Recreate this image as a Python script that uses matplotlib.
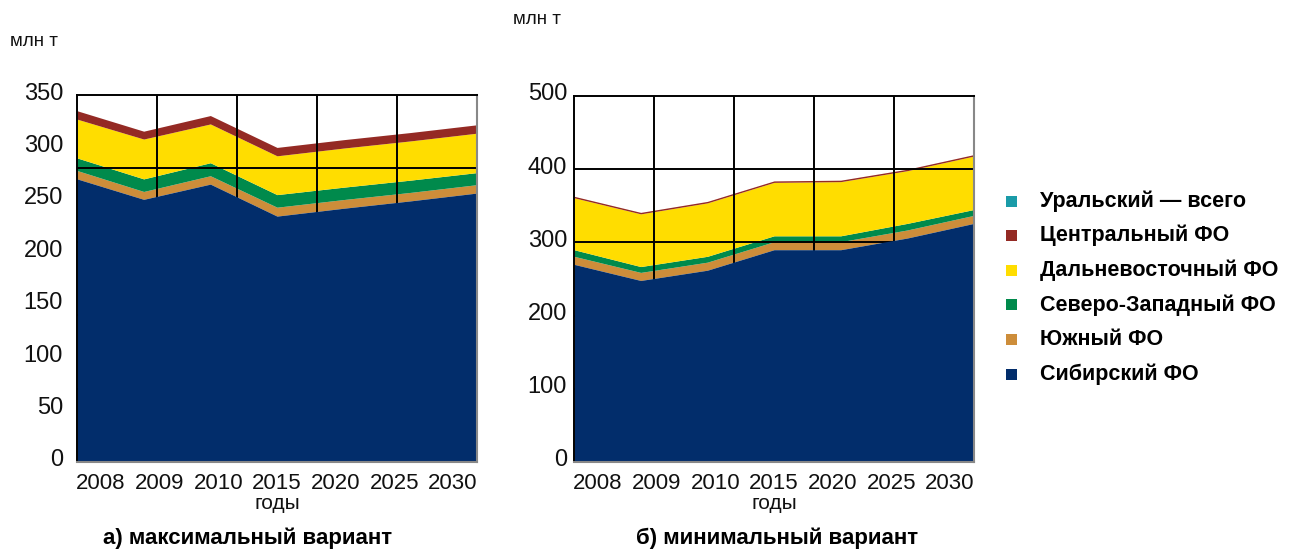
import matplotlib
matplotlib.use("Agg")
import matplotlib.pyplot as plt
from matplotlib.patches import Rectangle
from matplotlib.transforms import ScaledTranslation
import numpy as np

plt.rcParams['font.family'] = ['Liberation Sans', 'DejaVu Sans']

years = ["2008", "2009", "2010", "2015", "2020", "2025", "2030"]
series_names = ["Сибирский ФО", "Южный ФО", "Северо-Западный ФО",
                "Дальневосточный ФО", "Центральный ФО", "Уральский — всего"]
colors = ["#022d6b", "#cd8d3a", "#008a4c", "#ffdd00", "#942a24", "#1a9ba8"]

# a) maximum variant, mln t (layer thickness)
max_sib = [270, 250.5, 265, 234.5, 242, 249, 256.5]
max_south = [8, 7.5, 8, 8.5, 8.3, 8.1, 8]
max_nw = [12, 12, 12.4, 12, 11.8, 11.7, 11.5]
max_fe = [37, 38, 37, 37, 37.3, 37.4, 37.6]
max_cen = [8, 7.5, 8, 8, 8, 8, 8]
max_ural = [0, 0, 0, 0, 0, 0, 0]

# b) minimum variant, mln t
min_sib = [270, 248, 262, 290, 290, 306, 326]
min_south = [11, 11, 11, 11, 11, 11, 11]
min_nw = [9, 8, 8, 8, 8, 9, 8]
min_fe = [71, 72, 73, 73, 74, 72, 73]
min_cen = [2, 2, 2, 2, 2, 2, 2]
min_ural = [0, 0, 0, 0, 0, 0, 0]

left_yticks = [0, 50, 100, 150, 200, 250, 300, 350]
right_yticks = [0, 100, 200, 300, 400, 500]

fig = plt.figure(figsize=(12.9, 5.54), dpi=100)
W, H = 1290, 554


def axes_px(x0, y0, x1, y1):
    return fig.add_axes([x0 / W, 1 - y1 / H, (x1 - x0) / W, (y1 - y0) / H])


def draw(ax, layers, ymax, yticks, ypad):
    x = np.arange(len(years))
    base = np.zeros(len(years))
    for i, (vals, col) in enumerate(zip(layers, colors)):
        top = base + np.array(vals, dtype=float)
        ax.fill_between(x, base, top, color=col, lw=0,
                        zorder=3 if i == 0 else 1)
        base = top
    ax.set_xlim(0, len(years) - 1)
    ax.set_ylim(0, ymax)
    xr = len(years) - 1
    for k in range(1, 5):
        ax.axvline(xr * k / 5, color="black", lw=1.4, zorder=2)
        ax.axhline(ymax * k / 5, color="black", lw=1.4, zorder=2)
    ax.set_yticks(yticks)
    ax.set_yticklabels([str(t) for t in yticks])
    c = (len(years) - 1) / 2
    ax.set_xticks([c + (i - c) * 0.88 for i in range(len(years))])
    ax.set_xticklabels(years)
    ax.tick_params(axis='y', length=0, pad=ypad, labelsize=17, colors="#111111")
    ax.tick_params(axis='x', length=0, pad=8, labelsize=16, colors="#111111")
    off = ScaledTranslation(0, 4 / 100, fig.dpi_scale_trans)
    for lab in ax.get_yticklabels():
        lab.set_transform(lab.get_transform() + off)
    ax.set_xlabel("годы", fontsize=15, labelpad=0, color="#111111")
    for s in ["top", "left"]:
        ax.spines[s].set_color("black")
        ax.spines[s].set_linewidth(1.4)
        ax.spines[s].set_zorder(4)
    for s in ["right", "bottom"]:
        ax.spines[s].set_color("#888888")
        ax.spines[s].set_linewidth(1.5)
        ax.spines[s].set_zorder(4)


ax1 = axes_px(77, 95, 477, 462)
draw(ax1, [max_sib, max_south, max_nw, max_fe, max_cen, max_ural], 350, left_yticks, 10)
ax2 = axes_px(574, 96, 974, 462)
draw(ax2, [min_sib, min_south, min_nw, min_fe, min_cen, min_ural], 500, right_yticks, 5)

fig.text(10 / W, 1 - 42 / H, "млн т", fontsize=13.5, va="center", ha="left", color="#111111")
fig.text(513 / W, 1 - 20 / H, "млн т", fontsize=13.5, va="center", ha="left", color="#111111")

fig.text(248 / W, 1 - 538 / H, "а) максимальный вариант", fontsize=16,
         fontweight="bold", ha="center", va="center")
fig.text(777 / W, 1 - 538 / H, "б) минимальный вариант", fontsize=16,
         fontweight="bold", ha="center", va="center")

# legend (top to bottom in reverse stacking order)
leg_order = list(range(len(series_names)))[::-1]
for r, i in enumerate(leg_order):
    yc = 201 + r * 34.6
    fig.patches.append(Rectangle((1006 / W, 1 - (yc + 5.5) / H), 11 / W, 11 / H,
                                 transform=fig.transFigure, color=colors[i], lw=0))
    fig.text(1040 / W, 1 - yc / H, series_names[i], fontsize=15.5,
             fontweight="bold", ha="left", va="center")

fig.savefig("out.png", dpi=100)
